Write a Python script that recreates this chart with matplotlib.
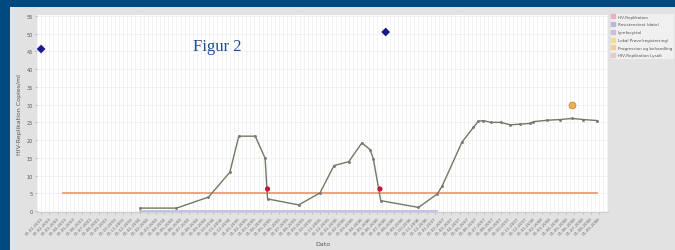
import matplotlib
matplotlib.use("Agg")
import matplotlib.pyplot as plt
from matplotlib.patches import Rectangle
from matplotlib.lines import Line2D
from matplotlib.ticker import MultipleLocator

# ---- data ----
date_labels = [
    "01-01-2003", "01-02-2003", "01-03-2003", "01-04-2003", "01-05-2003", "01-06-2003",
    "01-07-2003", "01-08-2003", "01-09-2003", "01-10-2003", "01-11-2003", "01-12-2003",
    "01-01-2004", "01-02-2004", "01-03-2004", "01-04-2004", "01-05-2004", "01-06-2004",
    "01-07-2004", "01-08-2004", "01-09-2004", "01-10-2004", "01-11-2004", "01-12-2004",
    "01-01-2005", "01-02-2005", "01-03-2005", "01-04-2005", "01-05-2005", "01-06-2005",
    "01-07-2005", "01-08-2005", "01-09-2005", "01-10-2005", "01-11-2005", "01-12-2005",
    "01-01-2006", "01-02-2006", "01-03-2006", "01-04-2006", "01-05-2006", "01-06-2006",
    "01-07-2006", "01-08-2006", "01-09-2006", "01-10-2006", "01-11-2006", "01-12-2006",
    "01-01-2007", "01-02-2007", "01-03-2007", "01-04-2007", "01-05-2007", "01-06-2007",
    "01-07-2007", "01-08-2007", "01-09-2007", "01-10-2007", "01-11-2007", "01-12-2007",
    "01-01-2008", "01-02-2008", "01-03-2008", "01-04-2008", "01-05-2008", "01-06-2008",
    "01-07-2008", "01-08-2008", "01-09-2008",
]
y_ticks = [0, 5, 10, 15, 20, 25, 30, 35, 40, 45, 50, 55]

# main measurement series (x in months from first label)
meas_x = [12.1, 16.5, 20.4, 23.0, 24.1, 26.1, 27.3, 27.6, 31.4, 34.0, 35.7, 37.5,
          39.1, 40.1, 40.5, 41.4, 46.0, 48.3, 48.9, 51.3, 52.7, 53.3, 53.9, 54.8,
          56.0, 57.2, 58.4, 59.6, 60.0, 61.7, 63.3, 64.7, 66.1, 67.8]
meas_y = [0.8, 0.8, 3.9, 10.9, 21.1, 21.1, 14.9, 3.4, 1.7, 5.1, 12.8, 13.9,
          19.2, 17.3, 14.7, 2.9, 1.0, 4.8, 7.1, 19.4, 23.6, 25.3, 25.5, 25.0,
          25.0, 24.3, 24.5, 24.7, 25.2, 25.6, 25.8, 26.1, 25.8, 25.5]

blue_x = [0.0, 42.0]
blue_y = [45.7, 50.5]
red_x = [27.6, 41.3]
red_y = [6.2, 6.2]
orange_x = [64.7]
orange_y = [29.9]
limit_x = [2.7, 67.8]
limit_y = [5.0, 5.0]
base_x = [12.1, 48.3]
base_y = [0.0, 0.0]

legend_labels = ["HIV-Replikation", "Resistenstest (dato)", "Lymfocyttal",
                 "Lokal Prøve(registrering)", "Progression og behandling", "HIV-Replikation Lysalt"]

# ---- figure ----
W, H = 675, 251
fig = plt.figure(figsize=(W / 100, H / 100), dpi=100)
fig.patch.set_facecolor("#004a80")
fig.add_artist(Rectangle((10 / W, 0), 1 - 10 / W, (H - 8) / H, transform=fig.transFigure,
                         facecolor="#e2e2e2", edgecolor="none", zorder=0))

ax = fig.add_axes([37 / W, (H - 213) / H, (608 - 37) / W, (213 - 16) / H])
ax.set_facecolor("white")
ax.set_xlim(-0.5, 69.1)
ax.set_ylim(-0.3, 55.3)

ax.set_xticks(range(len(date_labels)))
ax.set_xticklabels(date_labels, rotation=45, ha="right", rotation_mode="anchor",
                   fontsize=3, color="#666666")
ax.xaxis.set_minor_locator(MultipleLocator(0.5))
ax.set_yticks(y_ticks)
ax.set_yticklabels([str(v) for v in y_ticks], fontsize=3.5, color="#555555")
ax.tick_params(axis="both", length=1.5, width=0.4, color="#999999", pad=1.5)
ax.tick_params(axis="x", which="minor", length=0)

ax.grid(True, axis="x", which="both", color="#efefef", lw=0.5)
ax.grid(True, axis="y", color="#f0f0f0", lw=0.6)
ax.set_axisbelow(True)
for s in ax.spines.values():
    s.set_visible(False)
ax.spines["bottom"].set_visible(True)
ax.spines["bottom"].set_color("#cfcfcf")
ax.spines["bottom"].set_linewidth(0.8)

ax.plot(base_x, base_y, color="#b8b8e8", lw=1.2, zorder=2)
ax.plot(limit_x, limit_y, color="#e9a482", lw=1.4, zorder=2)
ax.plot(meas_x, meas_y, color="#6f7a62", lw=1.0, marker="o", ms=1.1,
        mfc="#7a7a7a", mec="#7a7a7a", zorder=3)
ax.scatter(red_x, red_y, s=14, color="#c3153f", zorder=4, edgecolors="none")
ax.scatter(blue_x, blue_y, s=20, color="#1c1a8a", marker="D", zorder=4, edgecolors="none")
ax.scatter(orange_x, orange_y, s=24, color="#f0b050", zorder=4, edgecolors="#c88a3a", linewidths=0.6)

ax.set_ylabel("HIV-Replikation Copies/ml", fontsize=4.5, color="#555555", labelpad=3)
ax.set_xlabel("Dato", fontsize=4.5, color="#555555", labelpad=4)

fig.text(193 / W, 1 - 47 / H, "Figur 2", fontsize=12, family="Liberation Serif",
         color="#1f4e8c", va="center", ha="left")

handles = [
    Line2D([], [], ls="none", marker="s", ms=3, color="#e8b0c0"),
    Line2D([], [], ls="none", marker="s", ms=3, color="#b8b8dd"),
    Line2D([], [], ls="none", marker="s", ms=3, color="#c8c0d8"),
    Line2D([], [], ls="none", marker="s", ms=3, color="#f4dc90"),
    Line2D([], [], ls="none", marker="s", ms=3, color="#f0d098"),
    Line2D([], [], ls="none", marker="s", ms=3, color="#e8c8c8"),
]
leg = fig.legend(handles, legend_labels, loc="upper left",
                 bbox_to_anchor=(608 / W, 1 - 12 / H), fontsize=3, frameon=True,
                 handlelength=0.8, handletextpad=0.6, borderpad=0.4, labelspacing=0.9,
                 fancybox=False, labelcolor="#555555")
leg.get_frame().set_facecolor("#f4f4f4")
leg.get_frame().set_edgecolor("#dddddd")
leg.get_frame().set_linewidth(0.5)

fig.savefig("out.png", dpi=100, facecolor=fig.get_facecolor())
